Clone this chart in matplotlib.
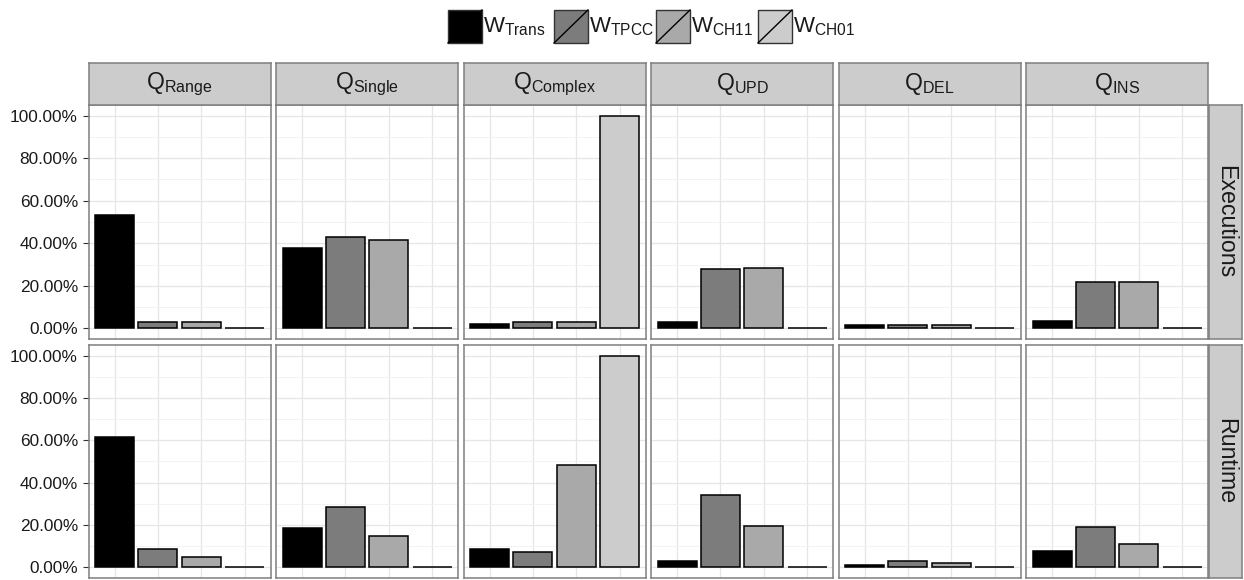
import numpy as np
import matplotlib
matplotlib.use("Agg")
import matplotlib.pyplot as plt
from matplotlib.patches import Rectangle
from matplotlib.lines import Line2D
from matplotlib.ticker import FuncFormatter, MultipleLocator

plt.rcParams['font.family'] = ['Liberation Sans', 'DejaVu Sans']
plt.rcParams['mathtext.fontset'] = 'custom'
plt.rcParams['mathtext.rm'] = 'Liberation Sans'
plt.rcParams['mathtext.it'] = 'Liberation Sans:italic'

# data (percent of total per workload)
queries = ['Range', 'Single', 'Complex', 'UPD', 'DEL', 'INS']
workloads = ['Trans', 'TPCC', 'CH11', 'CH01']
metrics = ['Executions', 'Runtime']

exec_trans = [53.3, 37.7, 2.0, 3.0, 1.4, 3.4]
exec_tpcc = [3.0, 42.8, 3.0, 28.0, 1.7, 21.6]
exec_ch11 = [3.0, 41.7, 3.0, 28.5, 1.7, 22.0]
exec_ch01 = [0.0, 0.0, 100.0, 0.0, 0.0, 0.0]

runtime_trans = [61.4, 18.5, 8.9, 3.1, 1.2, 7.8]
runtime_tpcc = [8.6, 28.5, 7.2, 34.4, 2.8, 19.0]
runtime_ch11 = [4.8, 14.7, 48.5, 19.6, 1.9, 11.1]
runtime_ch01 = [0.0, 0.0, 100.0, 0.0, 0.0, 0.0]

values = {
    'Executions': [exec_trans, exec_tpcc, exec_ch11, exec_ch01],
    'Runtime': [runtime_trans, runtime_tpcc, runtime_ch11, runtime_ch01],
}

fills = ['#000000', '#7c7c7c', '#a9a9a9', '#cccccc']
border = '#7f7f7f'

W, H = 1244, 580
fig = plt.figure(figsize=(W / 100, H / 100), dpi=100)
fig.patch.set_facecolor('white')


def px_axes(x0, y0, x1, y1):
    # pixel box measured from the top-left corner
    return fig.add_axes([x0 / W, 1 - y1 / H, (x1 - x0) / W, (y1 - y0) / H])


col_left = 88.5
col_w = 182
col_step = 187.5
rows_y = [(105, 339), (345, 578)]

for r, metric in enumerate(metrics):
    y0, y1 = rows_y[r]
    for c, q in enumerate(queries):
        x0 = col_left + c * col_step
        ax = px_axes(x0, y0, x0 + col_w, y1)
        xs = np.arange(1, 5)
        heights = [values[metric][k][c] / 100 for k in range(4)]
        ax.bar(xs, heights, width=0.9, color=fills, edgecolor='black',
               linewidth=1.1, zorder=3)
        ax.set_xlim(0.4, 4.6)
        ax.set_ylim(-0.05, 1.05)
        ax.yaxis.set_major_locator(MultipleLocator(0.2))
        ax.yaxis.set_minor_locator(MultipleLocator(0.1))
        ax.set_xticks(xs)
        ax.grid(which='major', color='#e6e6e6', linewidth=0.9, zorder=0)
        ax.grid(which='minor', axis='y', color='#f3f3f3', linewidth=0.7, zorder=0)
        ax.set_axisbelow(True)
        for s in ax.spines.values():
            s.set_color(border)
            s.set_linewidth(1.1)
        ax.tick_params(axis='x', length=0, labelbottom=False)
        ax.tick_params(axis='y', which='minor', length=0)
        if c == 0:
            ax.yaxis.set_major_formatter(FuncFormatter(lambda v, p: f"{v * 100:.2f}%"))
            ax.tick_params(axis='y', which='major', length=4.3, width=0.8,
                           color='#333333', labelsize=12.4, labelcolor='#1a1a1a', pad=3.3)
        else:
            ax.tick_params(axis='y', which='major', length=0, labelleft=False)

        # column strip on top
        if r == 0:
            sx = px_axes(x0, 63, x0 + col_w, y0)
            sx.set_facecolor('#cccccc')
            sx.set_xticks([])
            sx.set_yticks([])
            for s in sx.spines.values():
                s.set_color(border)
                s.set_linewidth(1.1)
            sx.text(0.5, 0.5, r'$\mathrm{Q_{%s}}$' % q, ha='center', va='center',
                    fontsize=16.5, color='#1a1a1a', transform=sx.transAxes)

    # row strip on the right
    rx = px_axes(1208.5, y0, 1242, y1)
    rx.set_facecolor('#cccccc')
    rx.set_xticks([])
    rx.set_yticks([])
    for s in rx.spines.values():
        s.set_color(border)
        s.set_linewidth(1.1)
    rx.text(0.5, 0.5, metric, rotation=-90, ha='center', va='center',
            fontsize=16.7, color='#1a1a1a', transform=rx.transAxes)

# legend at the top
lg = px_axes(0, 0, W, 60)
lg.set_xlim(0, W)
lg.set_ylim(60, 0)
lg.axis('off')
key_x = [448, 554, 656, 758]
for k, name in enumerate(workloads):
    kx = key_x[k]
    lg.add_patch(Rectangle((kx, 10), 34, 33, facecolor=fills[k],
                           edgecolor='#333333', linewidth=1.0))
    lg.add_line(Line2D([kx, kx + 34], [43, 10], color='black', linewidth=1.0))
    lg.text(kx + 35, 27, r'$\mathrm{W_{%s}}$' % name, ha='left', va='center',
            fontsize=16, color='#1a1a1a')

fig.savefig('out.png', dpi=100)
